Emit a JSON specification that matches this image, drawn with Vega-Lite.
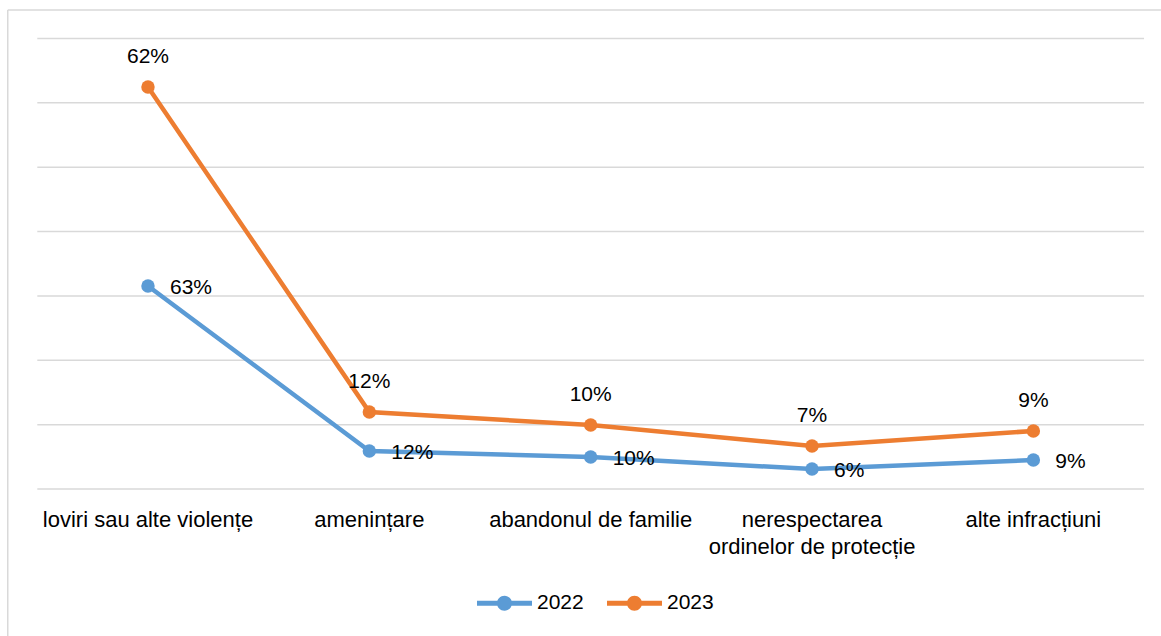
{
  "$schema": "https://vega.github.io/schema/vega-lite/v6.json",
  "width": 1153.25,
  "height": 626,
  "autosize": "none",
  "padding": {"left": 7.75, "top": 10, "right": 0, "bottom": 0},
  "background": "white",
  "config": {
    "view": {"stroke": "#D9D9D9", "strokeWidth": 1.5, "strokeDash": [1153.25, 1779.25, 626, 0]},
    "font": "Liberation Sans",
    "text": {"font": "Liberation Sans", "fontSize": 21, "color": "#000000"},
    "legend": {"symbolSize": 3025}
  },
  "data": {
    "values": [
      {"categorie": "loviri sau alte violențe", "an": "2022", "valoare": 1577, "eticheta": "63%"},
      {"categorie": "amenințare", "an": "2022", "valoare": 295, "eticheta": "12%"},
      {"categorie": "abandonul de familie", "an": "2022", "valoare": 249, "eticheta": "10%"},
      {"categorie": "nerespectarea ordinelor de protecție", "an": "2022", "valoare": 155, "eticheta": "6%"},
      {"categorie": "alte infracțiuni", "an": "2022", "valoare": 225, "eticheta": "9%"},
      {"categorie": "loviri sau alte violențe", "an": "2023", "valoare": 3123, "eticheta": "62%"},
      {"categorie": "amenințare", "an": "2023", "valoare": 598, "eticheta": "12%"},
      {"categorie": "abandonul de familie", "an": "2023", "valoare": 497, "eticheta": "10%"},
      {"categorie": "nerespectarea ordinelor de protecție", "an": "2023", "valoare": 334, "eticheta": "7%"},
      {"categorie": "alte infracțiuni", "an": "2023", "valoare": 451, "eticheta": "9%"}
    ]
  },
  "encoding": {
    "x": {
      "field": "categorie",
      "type": "nominal",
      "sort": null,
      "scale": {
        "type": "band",
        "domain": ["loviri sau alte violențe", "amenințare", "abandonul de familie", "nerespectarea ordinelor de protecție", "alte infracțiuni"],
        "paddingInner": 0,
        "paddingOuter": 0.10505,
        "align": 0.6355
      },
      "axis": {
        "title": null,
        "domain": false,
        "ticks": false,
        "grid": false,
        "labelAngle": 0,
        "offset": -147,
        "labelFontSize": 22,
        "labelColor": "#000000",
        "labelPadding": 20,
        "labelLimit": 0,
        "labelLineHeight": 27,
        "labelExpr": "datum.label == 'nerespectarea ordinelor de protecție' ? ['nerespectarea', 'ordinelor de protecție'] : datum.label"
      }
    },
    "y": {
      "field": "valoare",
      "type": "quantitative",
      "scale": {"domain": [-1142.1, 3721.4], "nice": false, "zero": false},
      "axis": null
    }
  },
  "layer": [
    {
      "data": {
        "values": [
          {"nivel": 0, "de_la": "loviri sau alte violențe", "pana_la": "alte infracțiuni"},
          {"nivel": 500, "de_la": "loviri sau alte violențe", "pana_la": "alte infracțiuni"},
          {"nivel": 1000, "de_la": "loviri sau alte violențe", "pana_la": "alte infracțiuni"},
          {"nivel": 1500, "de_la": "loviri sau alte violențe", "pana_la": "alte infracțiuni"},
          {"nivel": 2000, "de_la": "loviri sau alte violențe", "pana_la": "alte infracțiuni"},
          {"nivel": 2500, "de_la": "loviri sau alte violențe", "pana_la": "alte infracțiuni"},
          {"nivel": 3000, "de_la": "loviri sau alte violențe", "pana_la": "alte infracțiuni"},
          {"nivel": 3500, "de_la": "loviri sau alte violențe", "pana_la": "alte infracțiuni"}
        ]
      },
      "mark": {"type": "rule", "color": "#D9D9D9", "strokeWidth": 1.5},
      "encoding": {
        "x": {"field": "de_la", "type": "nominal", "bandPosition": 0},
        "x2": {"field": "pana_la", "bandPosition": 1},
        "y": {"field": "nivel", "type": "quantitative"}
      }
    },
    {
      "mark": {"type": "line", "strokeWidth": 4.5, "point": {"filled": true, "size": 180, "opacity": 1}},
      "encoding": {
        "color": {
          "field": "an",
          "type": "nominal",
          "scale": {"domain": ["2022", "2023"], "range": ["#5B9BD5", "#ED7D31"]},
          "legend": {
            "title": null,
            "orient": "none",
            "direction": "horizontal",
            "legendX": 469.25,
            "legendY": 565.5,
            "symbolType": "M-1,-0.0909H1V0.0909H-1Z M0.273,0 A0.273,0.273 0 1,1 -0.273,0 A0.273,0.273 0 1,1 0.273,0Z",
            "symbolSize": 3025,
            "symbolStrokeWidth": 0,
            "labelFontSize": 21,
            "labelColor": "#000000",
            "labelOffset": 5,
            "columnPadding": 23,
            "encode": {"symbols": {"update": {"fill": {"scale": "color", "field": "value"}, "fillOpacity": {"value": 1}}}}
          }
        }
      }
    },
    {
      "transform": [{"filter": "datum.an == '2022'"}],
      "mark": {"type": "text", "align": "left", "baseline": "middle", "dx": 22, "dy": 2},
      "encoding": {"text": {"field": "eticheta"}}
    },
    {
      "transform": [{"filter": "datum.an == '2023'"}],
      "mark": {"type": "text", "align": "center", "baseline": "middle", "dy": -30},
      "encoding": {"text": {"field": "eticheta"}}
    }
  ]
}
